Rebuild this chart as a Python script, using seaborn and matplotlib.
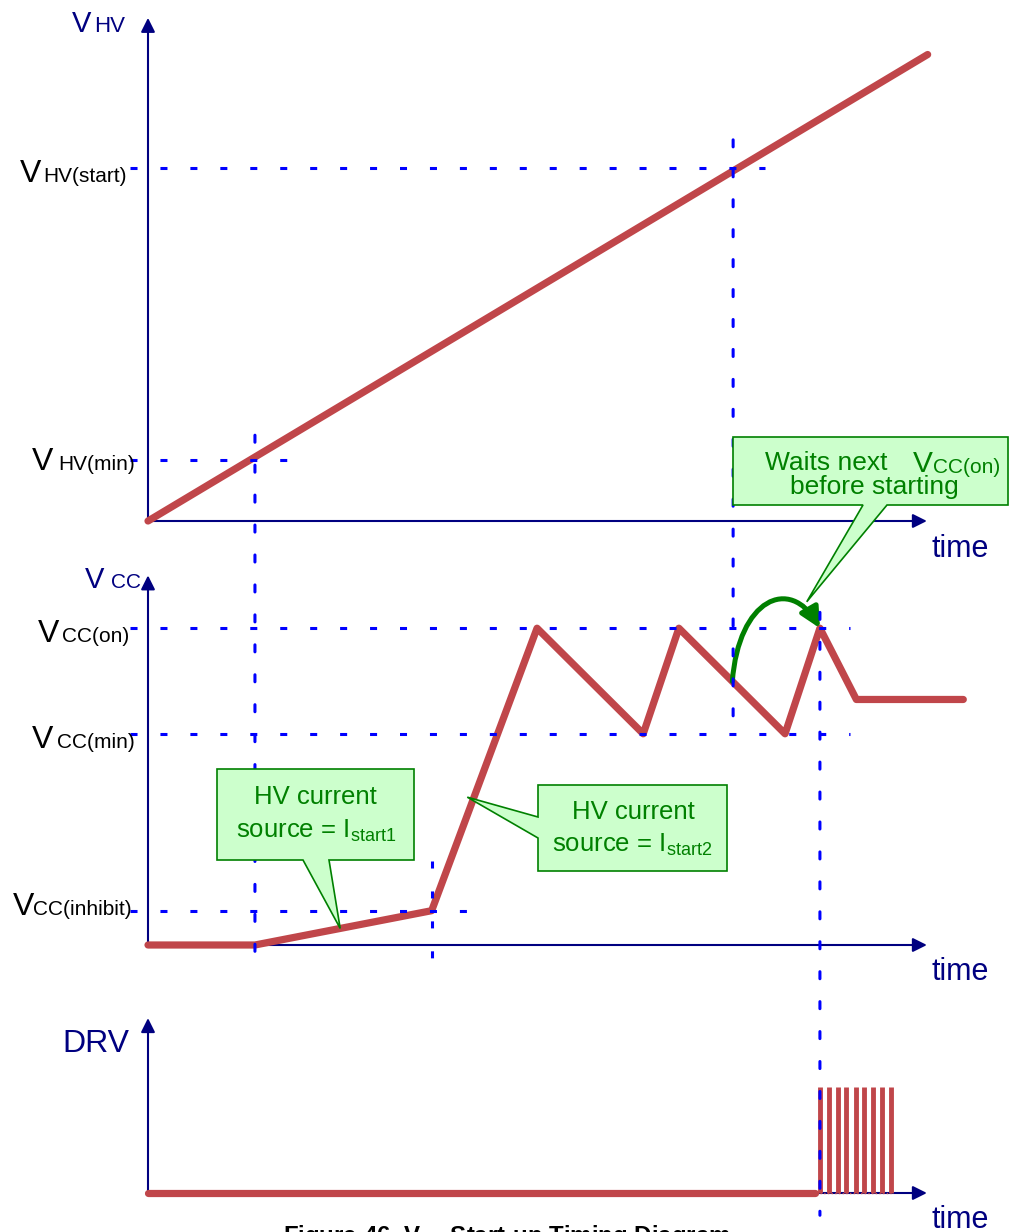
import matplotlib.pyplot as plt
import matplotlib.transforms as mtransforms
from matplotlib.patches import Polygon, ConnectionPatch, FancyArrowPatch
from matplotlib.path import Path
import numpy as np
import seaborn as sns

# ---- values (arbitrary time / voltage units) ----
hv_t = [0.0, 100.6]
hv_v = [0.0, 100.6]
VHV_MIN, VHV_START = 13.2, 76.1
T_HV_MIN, T_HV_START = 13.8, 75.5

vcc_t = [0.0, 13.8, 36.6, 50.2, 63.9, 68.5, 82.2, 86.7, 91.4, 105.2]
vcc_v = [0.0, 0.0, 1.3, 12.0, 8.0, 12.0, 8.0, 12.0, 9.3, 9.3]
VCC_ON, VCC_MIN, VCC_INHIBIT = 12.0, 8.0, 1.3
T_INHIBIT, T_RESTART = 36.6, 86.7

drv_t = [0.0, 86.1]
drv_v = [0.0, 0.0]
drv_pulse_t = [86.7, 87.9, 89.0, 90.1, 91.3, 92.4, 93.6, 94.7, 95.9]

W, H = 1009, 1232
RED = '#C0464A'
NAVY = '#000080'
BLUE = '#0000FF'
GREEN = '#008000'
BOXFILL = '#CCFFCC'

sns.set_style('white')
plt.rcParams['font.family'] = ['Liberation Sans', 'DejaVu Sans']
plt.rcParams['mathtext.fontset'] = 'custom'
plt.rcParams['mathtext.rm'] = 'Liberation Sans'
plt.rcParams['mathtext.bf'] = 'Liberation Sans:bold'

fig = plt.figure(figsize=(W / 100, H / 100), dpi=100)
# pixel coords, origin top-left, for layout of text / callouts
px = mtransforms.Affine2D().scale(1 / W, -1 / H).translate(0, 1) + fig.transFigure

T0, PX_T = 148, 7.75   # time origin column, px per time unit


def panel(top, bottom, origin, scale):
    ax = fig.add_axes([0, 1 - bottom / H, 1, (bottom - top) / H])
    ax.set_xlim(-T0 / PX_T, (W - T0) / PX_T)
    ax.set_ylim(-(bottom - origin) / scale, (origin - top) / scale)
    ax.set_axis_off()
    return ax


ax_hv = panel(0, 560, 521, 4.637)
ax_cc = panel(560, 1000, 945, 26.4)
ax_drv = panel(1000, 1232, 1193, 106)


def to_px(ax, t, v):
    return px.inverted().transform(ax.transData.transform((t, v)))


# axes with arrow heads
T_END = 100.5
arr = dict(arrowstyle='-|>', color=NAVY, lw=1.5, mutation_scale=21, shrinkA=0, shrinkB=0)
for ax, ytop in [(ax_hv, 108.5), (ax_cc, 14.0), (ax_drv, 1.65)]:
    ax.annotate('', xy=(0, ytop), xytext=(0, 0), arrowprops=arr, zorder=1)
    ax.annotate('', xy=(T_END, 0), xytext=(0, 0), arrowprops=arr, zorder=1)

# waveforms
line_kw = dict(color=RED, lw=5.2, solid_capstyle='round', solid_joinstyle='round',
               zorder=3, sort=False, estimator=None, legend=False)
sns.lineplot(x=hv_t, y=hv_v, ax=ax_hv, **line_kw)
sns.lineplot(x=vcc_t, y=vcc_v, ax=ax_cc, **line_kw)
sns.lineplot(x=drv_t, y=drv_v, ax=ax_drv, **line_kw)
ax_drv.vlines(drv_pulse_t, 0, 1, color=RED, lw=3.5, zorder=3)
ax_drv.plot([drv_pulse_t[0], drv_pulse_t[-1]], [0, 0], color=RED, lw=1, ls=':', zorder=3)

# dashed threshold lines
X_LBL = -2.3
dash_kw = dict(color=BLUE, lw=2.2, dashes=(2.3, 7.5), zorder=4)
ax_hv.plot([X_LBL, 18.6], [VHV_MIN] * 2, **dash_kw)
ax_hv.plot([X_LBL, 79.6], [VHV_START] * 2, **dash_kw)
ax_cc.plot([X_LBL, 90.6], [VCC_ON] * 2, **dash_kw)
ax_cc.plot([X_LBL, 90.6], [VCC_MIN] * 2, **dash_kw)
ax_cc.plot([X_LBL, 41.2], [VCC_INHIBIT] * 2, **dash_kw)
ax_cc.plot([T_INHIBIT] * 2, [3.2, -0.76], **dash_kw)


def vdash(t, axA, yA, axB, yB):
    cp = ConnectionPatch((t, yA), (t, yB), coordsA='data', coordsB='data',
                         axesA=axA, axesB=axB, color=BLUE, lw=2.2,
                         linestyle=(0, (2.3, 7.5)), zorder=2)
    fig.add_artist(cp)


vdash(T_HV_MIN, ax_hv, 18.5, ax_cc, -0.76)
vdash(T_HV_START, ax_hv, 82.2, ax_cc, 8.5)
vdash(T_RESTART, ax_cc, 12.6, ax_drv, -0.21)

# green "wait" arc
a0 = (75.4, np.interp(75.4, vcc_t, vcc_v))
arc = FancyArrowPatch(path=Path([a0, (76.2, 13.1), (82.8, 14.0), (T_RESTART, VCC_ON)],
                                [Path.MOVETO, Path.CURVE4, Path.CURVE4, Path.CURVE4]),
                      arrowstyle='-|>', mutation_scale=30, color=GREEN, lw=3.6, zorder=5)
ax_cc.add_patch(arc)

# callout boxes
tip1 = to_px(ax_cc, 24.8, np.interp(24.8, vcc_t, vcc_v))
tip2 = to_px(ax_cc, 41.2, 5.6)
tip3 = to_px(ax_cc, 85.0, 13.0)
callouts = [
    [(733, 437), (1008, 437), (1008, 505), (887, 505), tip3, (863, 505), (733, 505)],
    [(217, 769), (414, 769), (414, 860), (329, 860), tip1, (303, 860), (217, 860)],
    [(538, 785), (727, 785), (727, 871), (538, 871), (538, 838), tip2, (538, 817)],
]
for verts in callouts:
    fig.add_artist(Polygon(verts, closed=True, transform=px, facecolor=BOXFILL,
                           edgecolor=GREEN, lw=1.2, zorder=3))


def txt(x, y, s, size, color, ha='left', **kw):
    fig.text(x, y, s, transform=px, fontsize=size, color=color, ha=ha,
             va='baseline', zorder=6, **kw)


# axis names
txt(72, 32, 'V', 21, NAVY)
txt(94, 32, 'HV', 16, NAVY)
txt(85, 588, 'V', 21, NAVY)
txt(111, 588, 'CC', 15, NAVY)
txt(62, 1052, 'DRV', 23, NAVY)
for y in (557, 980, 1228):
    txt(932, y, 'time', 22, NAVY)

# level labels
levels = [((20, 43), 182, 'HV(start)'), ((32, 58), 470, 'HV(min)'),
          ((38, 62), 642, 'CC(on)'), ((32, 57), 748, 'CC(min)'),
          ((13, 33), 915, 'CC(inhibit)')]
for (xv, xs), yb, sub in levels:
    txt(xv, yb, 'V', 23, 'black')
    txt(xs, yb, sub, 15, 'black')

# callout text
txt(765, 470, 'Waits next', 19, GREEN)
txt(913, 472, 'V', 21.5, GREEN)
txt(933, 473, 'CC(on)', 15, GREEN)
txt(874, 494, 'before starting', 19, GREEN, ha='center')
txt(315.5, 804, 'HV current', 18.5, GREEN, ha='center')
txt(316, 838, r'source = I$_{\mathregular{start1}}$', 18.5, GREEN, ha='center')
txt(633, 819, 'HV current', 18.5, GREEN, ha='center')
txt(632, 851, r'source = I$_{\mathregular{start2}}$', 18.5, GREEN, ha='center')

# caption (cut by the lower edge, as in the source)
txt(283, 1243, r'Figure 46. V$_{\mathbf{HV}}$ Start-up Timing Diagram', 17.3, 'black',
    weight='bold')

plt.savefig('out.png', dpi=100)
